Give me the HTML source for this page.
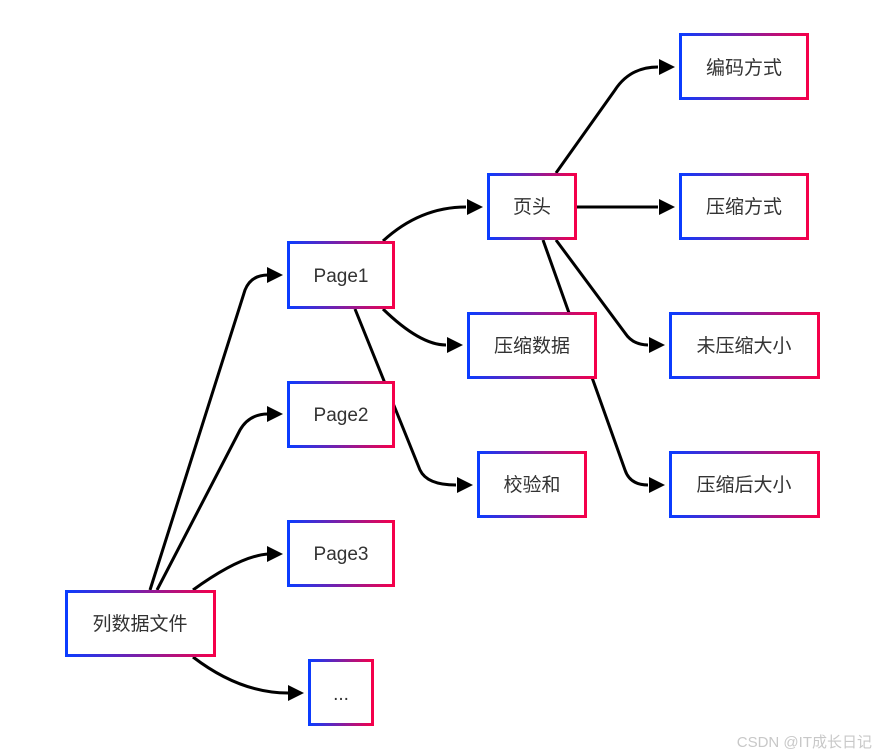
<!DOCTYPE html>
<html><head><meta charset="utf-8"><style>
html,body{margin:0;padding:0;background:#fff;width:876px;height:756px;overflow:hidden}
text{font-family:"Liberation Sans","Noto Sans CJK SC",sans-serif;font-size:19px;fill:#333}
</style></head><body>
<svg width="876" height="756" viewBox="0 0 876 756" xmlns="http://www.w3.org/2000/svg">
<defs>
<linearGradient id="g" x1="0" y1="0" x2="1" y2="0">
<stop offset="0" stop-color="#0a3cff"/><stop offset="1" stop-color="#f5004a"/>
</linearGradient>
</defs>
<g fill="none" stroke="#000" stroke-width="3">
<path d="M150 590 L245 290 Q251 275 268 275"/>
<path d="M157 590 L240 430 Q249 414 268 414"/>
<path d="M193 590 Q240 556 268 554"/>
<path d="M193 657 Q240 693 288 693"/>
<path d="M383 241 Q420 207 466 207"/>
<path d="M383 309 Q420 345 446 345"/>
<path d="M355 309 L420 470 Q427 485 456 485"/>
<path d="M556 173 L615 90 Q630 67 658 67"/>
<path d="M577 207 L658 207"/>
<path d="M556 240 L625 333 Q633 345 648 345"/>
<path d="M543 240 L625 470 Q630 485 648 485"/>
</g>
<g fill="#000">
<polygon points="283,275 267,267 267,283"/>
<polygon points="283,414 267,406 267,422"/>
<polygon points="283,554 267,546 267,562"/>
<polygon points="304,693 288,685 288,701"/>
<polygon points="483,207 467,199 467,215"/>
<polygon points="463,345 447,337 447,353"/>
<polygon points="473,485 457,477 457,493"/>
<polygon points="675,67 659,59 659,75"/>
<polygon points="675,207 659,199 659,215"/>
<polygon points="665,345 649,337 649,353"/>
<polygon points="665,485 649,477 649,493"/>
</g>
<g fill="#fff" stroke="url(#g)" stroke-width="3">
<rect x="66.5" y="591.5" width="148" height="64"/>
<rect x="309.5" y="660.5" width="63" height="64"/>
<rect x="288.5" y="242.5" width="105" height="65"/>
<rect x="288.5" y="382.5" width="105" height="64"/>
<rect x="288.5" y="521.5" width="105" height="64"/>
<rect x="488.5" y="174.5" width="87" height="64"/>
<rect x="468.5" y="313.5" width="127" height="64"/>
<rect x="478.5" y="452.5" width="107" height="64"/>
<rect x="680.5" y="34.5" width="127" height="64"/>
<rect x="680.5" y="174.5" width="127" height="64"/>
<rect x="670.5" y="313.5" width="148" height="64"/>
<rect x="670.5" y="452.5" width="148" height="64"/>
</g>
<g text-anchor="middle">
<text x="140" y="630">列数据文件</text>
<text x="341" y="700">...</text>
<text x="341" y="282">Page1</text>
<text x="341" y="421">Page2</text>
<text x="341" y="560">Page3</text>
<text x="532" y="213">页头</text>
<text x="532" y="352">压缩数据</text>
<text x="532" y="491">校验和</text>
<text x="744" y="74">编码方式</text>
<text x="744" y="213">压缩方式</text>
<text x="744" y="352">未压缩大小</text>
<text x="744" y="491">压缩后大小</text>
</g>
<text x="872" y="747" text-anchor="end" style="font-size:15px;fill:#c8c8c8">CSDN @IT成长日记</text>
</svg>
</body></html>
